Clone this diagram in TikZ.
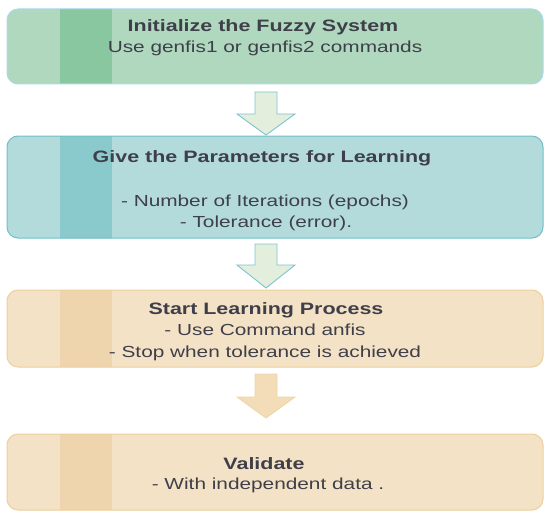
\documentclass[tikz,border=0pt]{standalone}
\usepackage{fontspec}
\setmainfont{Liberation Sans}[FakeStretch=1.3]
\begin{document}
\begin{tikzpicture}[x=1pt,y=-1pt]
\definecolor{txt}{HTML}{3F3F4A}
\definecolor{gfill}{HTML}{B0D8BF}\definecolor{gstripe}{HTML}{88C79F}\definecolor{gborder}{HTML}{A8D9EC}
\definecolor{tfill}{HTML}{B3DBDC}\definecolor{tstripe}{HTML}{8ACACC}\definecolor{tborder}{HTML}{6EC1C6}
\definecolor{ofill}{HTML}{F3E2C6}\definecolor{ostripe}{HTML}{EED5AE}\definecolor{oborder}{HTML}{EDCF9B}
\definecolor{afill}{HTML}{E3EFDC}\definecolor{aborder}{HTML}{7CC3D3}
\definecolor{a3fill}{HTML}{F2DDB8}\definecolor{a3border}{HTML}{F0D5A5}
\tikzset{
  box/.style={rounded corners=11pt, minimum width=536pt, line width=1pt, inner sep=0pt},
  gbox/.style={box, draw=gborder, fill=gfill, path picture={\fill[gstripe, sharp corners] ([xshift=53pt,yshift=-2pt]path picture bounding box.south west) rectangle ([xshift=105pt,yshift=2pt]path picture bounding box.north west);}},
  tbox/.style={box, draw=tborder, fill=tfill, path picture={\fill[tstripe, sharp corners] ([xshift=53pt,yshift=-2pt]path picture bounding box.south west) rectangle ([xshift=105pt,yshift=2pt]path picture bounding box.north west);}},
  obox/.style={box, draw=oborder, fill=ofill, path picture={\fill[ostripe, sharp corners] ([xshift=53pt,yshift=-2pt]path picture bounding box.south west) rectangle ([xshift=105pt,yshift=2pt]path picture bounding box.north west);}},
  ttl/.style={anchor=base, inner sep=0pt, text=txt, font=\fontsize{16.5}{19}\selectfont\bfseries},
  ln/.style={anchor=base, inner sep=0pt, text=txt, font=\fontsize{16}{19}\selectfont},
  arr/.style={line width=0.9pt, line join=miter},
}
\useasboundingbox (0,0) rectangle (544,511);
% boxes
\node[gbox, minimum height=75pt] (b1) at (275,46.5) {};
\node[tbox, minimum height=102pt] (b2) at (275,187) {};
\node[obox, minimum height=77pt] (b3) at (275,328.5) {};
\node[obox, minimum height=76pt] (b4) at (275,472) {};
% texts
\node[ttl] (t1) at (263,32) {Initialize the Fuzzy System};
\node[ln] (t1a) at (265,53) {Use genfis1 or genfis2 commands};
\node[ttl] (t2) at (262,162) {Give the Parameters for Learning};
\node[ln] (t2a) at (265,206) {- Number of Iterations (epochs)};
\node[ln] (t2b) at (266,227) {- Tolerance (error).};
\node[ttl] (t3) at (266,314) {Start Learning Process};
\node[ln] (t3a) at (265,335.5) {- Use Command anfis};
\node[ln] (t3b) at (265,357) {- Stop when tolerance is achieved};
\node[ttl] (t4) at (264,469) {Validate};
\node[ln] (t4a) at (268,489) {- With independent data .};
% arrows
\coordinate (a1) at (266,92);
\coordinate (a2) at (266,244);
\coordinate (a3) at (266,374);
\draw[arr, draw=aborder, fill=afill] (a1) ++(-11,0) -- ++(22,0) -- ++(0,22) -- ++(18,0) -- (266,135) -- (237,114) -- (255,114) -- cycle;
\draw[arr, draw=aborder, fill=afill] (a2) ++(-11,0) -- ++(22,0) -- ++(0,21) -- ++(18,0) -- (266,288) -- (237,265) -- (255,265) -- cycle;
\draw[arr, draw=a3border, fill=a3fill] (a3) ++(-11,0) -- ++(22,0) -- ++(0,23) -- ++(18,0) -- (266,418) -- (237,397) -- (255,397) -- cycle;
\end{tikzpicture}
\end{document}
